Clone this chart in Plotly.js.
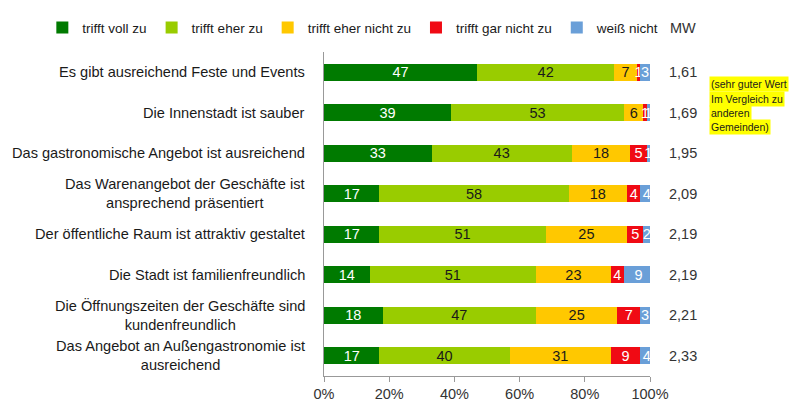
<!DOCTYPE html>
<html><head><meta charset="utf-8">
<script src="https://cdn.plot.ly/plotly-3.0.1.min.js"></script>
<style>html,body{margin:0;padding:0;background:#fff;}#chart{width:792px;height:409px;}</style>
</head><body><div id="chart"></div>
<script>
const categories = [
  "Es gibt ausreichend Feste und Events",
  "Die Innenstadt ist sauber",
  "Das gastronomische Angebot ist ausreichend",
  "Das Warenangebot der Geschäfte ist<br>ansprechend präsentiert",
  "Der öffentliche Raum ist attraktiv gestaltet",
  "Die Stadt ist familienfreundlich",
  "Die Öffnungszeiten der Geschäfte sind<br>kundenfreundlich",
  "Das Angebot an Außengastronomie ist<br>ausreichend"
];
const seriesNames = ["trifft voll zu", "trifft eher zu", "trifft eher nicht zu", "trifft gar nicht zu", "weiß nicht"];
const trifftVollZu      = [47, 39, 33, 17, 17, 14, 18, 17];
const trifftEherZu      = [42, 53, 43, 58, 51, 51, 47, 40];
const trifftEherNichtZu = [7, 6, 18, 18, 25, 23, 25, 31];
const trifftGarNichtZu  = [1, 1, 5, 4, 5, 4, 7, 9];
const weissNicht        = [3, 1, 1, 4, 2, 9, 3, 4];
const mwValues = ["1,61", "1,69", "1,95", "2,09", "2,19", "2,19", "2,21", "2,33"];
const noteLines = ["(sehr guter Wert", "Im Vergleich zu", "anderen", "Gemeinden)"];
const xTickVals = [0, 20, 40, 60, 80, 100];
const xTickText = ["0%", "20%", "40%", "60%", "80%", "100%"];

const colors = ["#007A00", "#99CC00", "#FFC800", "#F00A14", "#6A9FD8"];
const textColors = ["#ffffff", "#1a1a1a", "#1a1a1a", "#ffffff", "#ffffff"];
const seriesData = [trifftVollZu, trifftEherZu, trifftEherNichtZu, trifftGarNichtZu, weissNicht];
const FONT = "Liberation Sans, Arial, sans-serif";

const traces = seriesData.map((vals, i) => ({
  type: "bar",
  orientation: "h",
  name: seriesNames[i],
  y: categories,
  x: vals,
  text: vals.map(String),
  textposition: "inside",
  textangle: 0,
  insidetextanchor: "middle",
  constraintext: "none",
  textfont: {family: FONT, size: 14.5, color: textColors[i]},
  marker: {color: colors[i], line: {width: 0}},
  width: 0.42,
  hoverinfo: "skip"
}));

const annotations = [];
categories.forEach((c, i) => {
  annotations.push({
    xref: "paper", yref: "y", x: -0.052, y: c,
    text: c, showarrow: false, xanchor: "right", align: "center",
    font: {family: FONT, size: 14.6, color: "#1a1a1a"}
  });
  annotations.push({
    xref: "paper", yref: "y", x: 1.101, y: c,
    text: mwValues[i], showarrow: false, xanchor: "center",
    font: {family: FONT, size: 14.5, color: "#333"}
  });
});
annotations.push({
  xref: "paper", yref: "paper", x: 1.101, y: 1.075, yanchor: "middle",
  text: "MW", showarrow: false, xanchor: "center",
  font: {family: FONT, size: 14.5, color: "#333"}
});
const noteY = [0.900, 0.856, 0.812, 0.768];
noteLines.forEach((t, i) => {
  annotations.push({
    xref: "paper", yref: "paper", x: 1.182, y: noteY[i], yanchor: "middle",
    xanchor: "left", text: t, showarrow: false, bgcolor: "#FFFF00", borderpad: 1,
    font: {family: FONT, size: 10.5, color: "#1a1a1a"}
  });
});

const layout = {
  width: 792, height: 409,
  margin: {l: 324, r: 142, t: 42, b: 33},
  barmode: "stack",
  paper_bgcolor: "#fff", plot_bgcolor: "#fff",
  showlegend: true,
  legend: {
    orientation: "h", x: -0.864, xanchor: "left", y: 1.075, yanchor: "middle",
    font: {family: FONT, size: 13.5, color: "#1a1a1a"},
    itemwidth: 30, traceorder: "normal"
  },
  xaxis: {
    range: [0, 100], tickvals: xTickVals, ticktext: xTickText,
    showgrid: false, zeroline: false, showline: true, linecolor: "#999", linewidth: 1,
    ticks: "outside", ticklen: 5, tickcolor: "#999",
    tickfont: {family: FONT, size: 14.5, color: "#333"}, fixedrange: true
  },
  yaxis: {
    categoryorder: "array", categoryarray: categories, autorange: "reversed",
    showticklabels: false, showgrid: false, zeroline: false,
    showline: true, linecolor: "#999", linewidth: 1, ticks: "", fixedrange: true
  },
  annotations: annotations
};

Plotly.newPlot("chart", traces, layout, {displayModeBar: false, staticPlot: true});
</script>
</body></html>
